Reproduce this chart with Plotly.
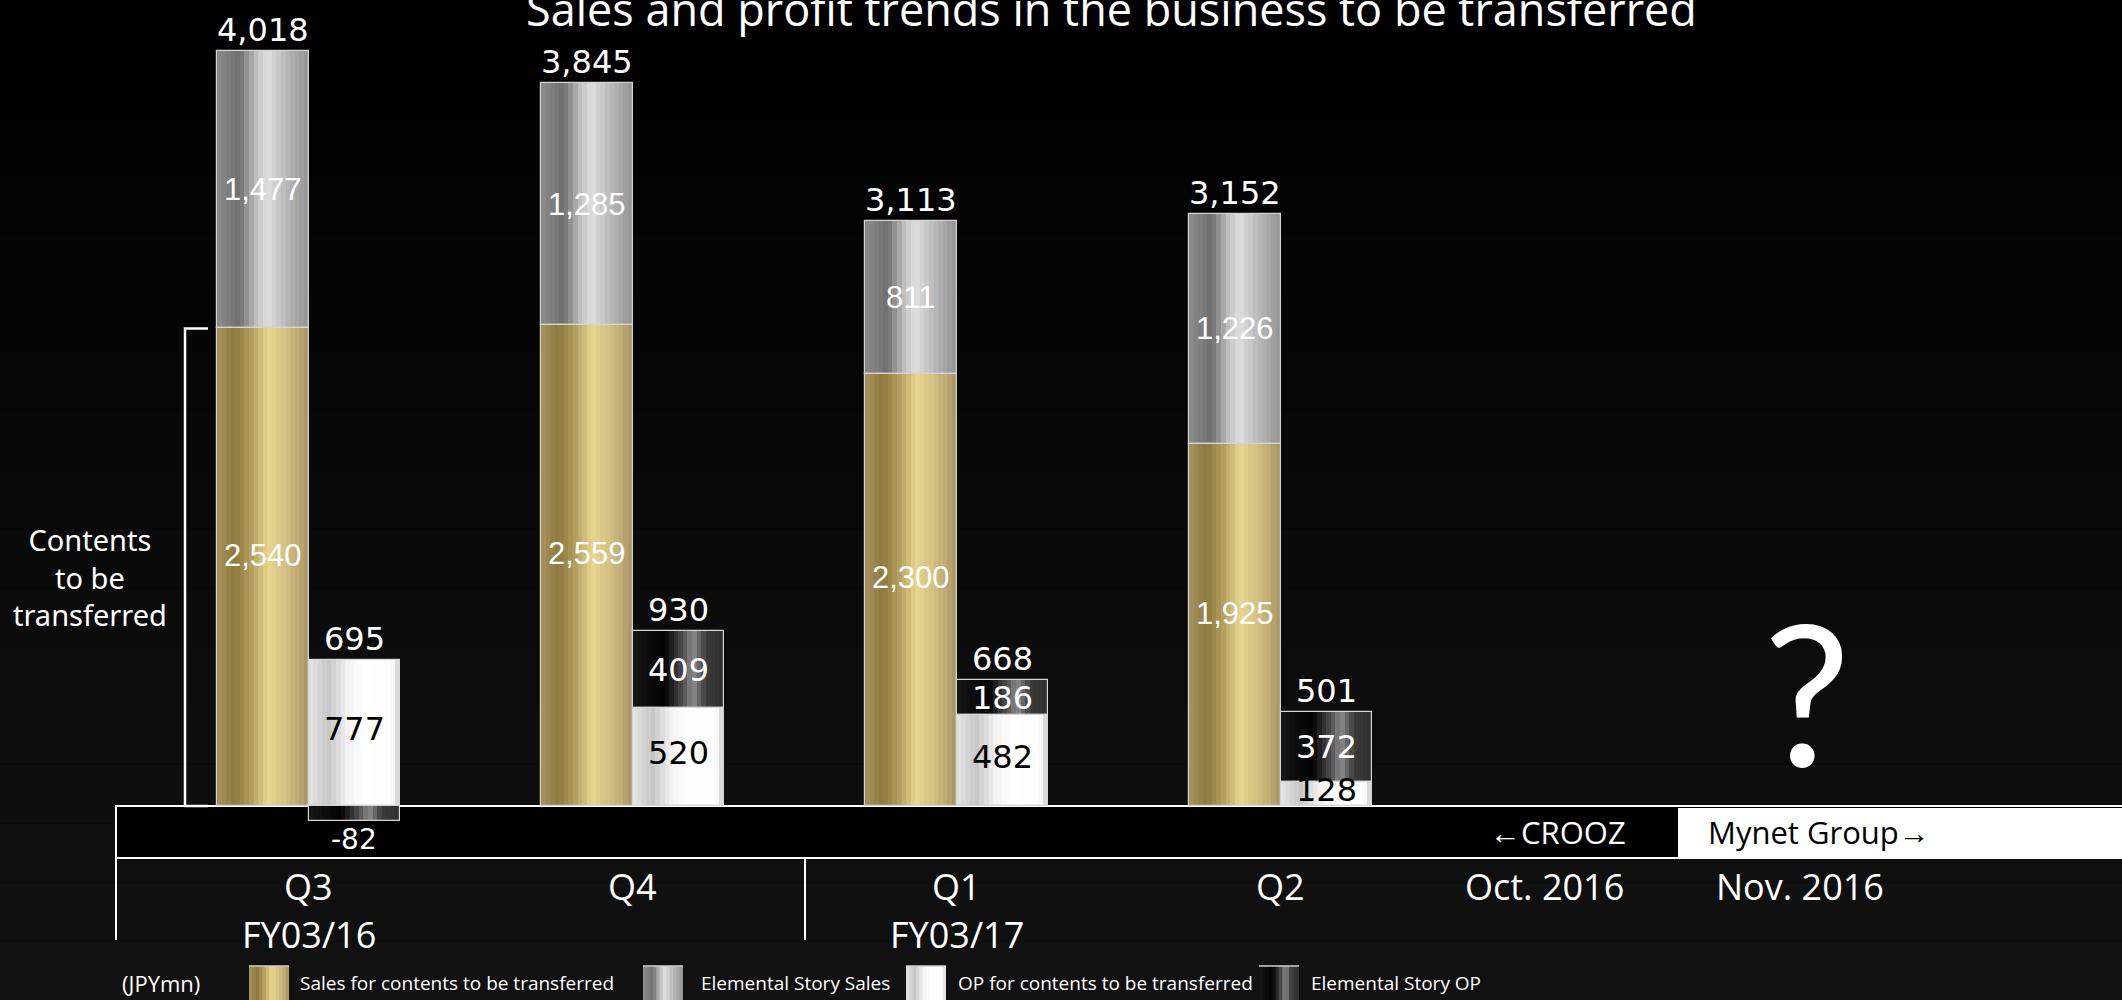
import plotly.graph_objects as go

# ---------------- data ----------------
quarters = ["Q3", "Q4", "Q1", "Q2"]
fiscal_years = ["FY03/16", "", "FY03/17", ""]
sales_contents = [2540, 2559, 2300, 1925]
sales_elemental = [1477, 1285, 811, 1226]
sales_total = [4018, 3845, 3113, 3152]
op_contents = [777, 520, 482, 128]
op_elemental = [-82, 409, 186, 372]
op_total = [695, 930, 668, 501]
later_periods = ["Oct. 2016", "Nov. 2016"]
legend_labels = ["Sales for contents to be transferred", "Elemental Story Sales",
                 "OP for contents to be transferred", "Elemental Story OP"]
title_text = "Sales and profit trends in the business to be transferred"

# ---------------- layout helpers ----------------
W, H = 2122, 1000
x_pos = list(range(len(quarters)))
BAR_W = 0.2824
later_pos = [3.816, 4.603]

def xp(px):
    return px / W

def yp(py):
    return 1 - py / H

def hx(c):
    c = c.lstrip("#")
    return [int(c[i:i + 2], 16) for i in (0, 2, 4)]

def interp(stops, t):
    for (t0, c0), (t1, c1) in zip(stops[:-1], stops[1:]):
        if t0 <= t <= t1:
            f = (t - t0) / (t1 - t0) if t1 > t0 else 0
            a, b = hx(c0), hx(c1)
            return "rgb(%d,%d,%d)" % tuple(round(a[i] + (b[i] - a[i]) * f) for i in range(3))
    return stops[-1][1]

GOLD = [(0, "#a8925f"), (0.2, "#8d793e"), (0.38, "#b6a061"), (0.56, "#e8d690"),
        (0.72, "#d6c384"), (0.88, "#bfab74"), (1, "#a69364")]
GREY = [(0, "#8c8c8c"), (0.25, "#6f6f6f"), (0.42, "#bdbdbd"), (0.55, "#e0e0e0"),
        (0.75, "#b9b9b9"), (1, "#939393")]
WHITE = [(0, "#e6e6e6"), (0.22, "#c6c6c6"), (0.42, "#f2f2f2"), (0.6, "#ffffff"),
         (0.92, "#fbfbfb"), (1, "#cdcdcd")]
BLACK = [(0, "#161616"), (0.35, "#030303"), (0.55, "#4e4e4e"), (0.66, "#8a8a8a"),
         (0.8, "#3c3c3c"), (1, "#2e2e2e")]

fig = go.Figure()

def gradient_bars(x, base, vals, offset, stops, K=20):
    w = BAR_W / K
    for i in range(K):
        off = offset + i * w
        ww = min(w * 1.6, offset + BAR_W - off)
        fig.add_trace(go.Bar(x=x, y=vals, base=base, offset=off, width=ww,
                             marker=dict(color=interp(stops, (i + 0.5) / K), line=dict(width=0)),
                             showlegend=False, hoverinfo="skip"))

def outline(x, base, vals, offset):
    fig.add_trace(go.Bar(x=x, y=vals, base=base, offset=offset, width=BAR_W,
                         marker=dict(color="rgba(0,0,0,0)", line=dict(color="#d4d4d4", width=1.2)),
                         showlegend=False, hoverinfo="skip"))

zeros = [0] * len(quarters)
es_op_base = [c if e >= 0 else 0 for c, e in zip(op_contents, op_elemental)]

gradient_bars(x_pos, zeros, sales_contents, -BAR_W, GOLD)
gradient_bars(x_pos, sales_contents, sales_elemental, -BAR_W, GREY)
gradient_bars(x_pos, zeros, op_contents, 0, WHITE)
gradient_bars(x_pos, es_op_base, op_elemental, 0, BLACK)
outline(x_pos, zeros, sales_contents, -BAR_W)
outline(x_pos, sales_contents, sales_elemental, -BAR_W)
outline(x_pos, zeros, op_contents, 0)
outline(x_pos, es_op_base, op_elemental, 0)

# ---------------- labels ----------------
ann = []
NUM_WIDE = "DejaVu Sans"
NUM_INNER = "Liberation Sans, Arial, sans-serif"
TXT = "Open Sans, sans-serif"

for i, x in enumerate(x_pos):
    xs = x - BAR_W / 2
    xo = x + BAR_W / 2
    c, e = sales_contents[i], sales_elemental[i]
    ann.append(dict(x=xs, y=c / 2, text=f"{c:,}", yshift=12,
                    font=dict(family=NUM_INNER, size=31, color="white")))
    ann.append(dict(x=xs, y=c + e / 2, text=f"{e:,}",
                    font=dict(family=NUM_INNER, size=31, color="white")))
    ann.append(dict(x=xs, y=c + e, text=f"{sales_total[i]:,}", yanchor="bottom",
                    font=dict(family=NUM_WIDE, size=32, color="white")))
    oc, oe = op_contents[i], op_elemental[i]
    ann.append(dict(x=xo, y=oc / 2, text=f"{oc:,}", yshift=4,
                    font=dict(family=NUM_WIDE, size=32, color="black")))
    if oe >= 0:
        ann.append(dict(x=xo, y=oc + oe / 2, text=f"{oe:,}",
                        font=dict(family=NUM_WIDE, size=32, color="white")))
    else:
        ann.append(dict(x=xo, y=oe, text=f"{oe:,}", yanchor="top",
                        font=dict(family=NUM_WIDE, size=28, color="white")))
    ann.append(dict(x=xo, y=oc + max(oe, 0), text=f"{op_total[i]:,}", yanchor="bottom",
                    font=dict(family=NUM_WIDE, size=32, color="white")))
    # axis-like labels
    ann.append(dict(x=x, y=yp(886), yref="paper", text=quarters[i],
                    font=dict(family=TXT, size=36, color="white")))
    if fiscal_years[i]:
        ann.append(dict(x=x, y=yp(934), yref="paper", text=fiscal_years[i],
                        font=dict(family=TXT, size=36, color="white")))

for lbl, x in zip(later_periods, later_pos):
    ann.append(dict(x=x, y=yp(886), yref="paper", text=lbl,
                    font=dict(family=TXT, size=36, color="white")))

ann += [
    dict(x=xp(1111), y=yp(41), xref="paper", yref="paper", yanchor="bottom", text=title_text,
         font=dict(family=TXT, size=45, color="white")),
    dict(x=xp(90), y=yp(577), xref="paper", yref="paper",
         text="Contents<br>to be<br>transferred", align="center",
         font=dict(family="Noto Sans, sans-serif", size=29, color="white")),
    dict(x=xp(1807), y=yp(691), xref="paper", yref="paper", text="?",
         font=dict(family="Lato, sans-serif", size=196, color="white")),
    dict(x=xp(1628), y=yp(832), xref="paper", yref="paper", xanchor="right",
         text="←CROOZ", font=dict(family=TXT, size=31, color="white")),
    dict(x=xp(1706), y=yp(832), xref="paper", yref="paper", xanchor="left",
         text="Mynet Group→", font=dict(family=TXT, size=31, color="black")),
    dict(x=xp(120), y=yp(983), xref="paper", yref="paper", xanchor="left",
         text="(JPYmn)", font=dict(family=TXT, size=22, color="white")),
]

# ---------------- shapes ----------------
shapes = []
# smooth background shading (black at top to very dark grey at the bottom)
NB = 17
for k in range(NB):
    v = round(k * 17 / (NB - 1))
    shapes.append(dict(type="rect", xref="paper", yref="paper", x0=0, x1=1,
                       y0=yp((k + 1) * H / NB), y1=yp(k * H / NB),
                       fillcolor="rgb(%d,%d,%d)" % (v, v, v), line=dict(width=0), layer="below"))
# band
shapes.append(dict(type="rect", xref="paper", yref="paper", x0=xp(116), x1=1.01, y0=yp(858), y1=yp(806),
                   fillcolor="black", line=dict(color="white", width=2), layer="below"))
shapes.append(dict(type="rect", xref="paper", yref="paper", x0=xp(1678), x1=1.01, y0=yp(857), y1=yp(808),
                   fillcolor="white", line=dict(width=0), layer="below"))
for vx in (116, 805):
    shapes.append(dict(type="line", xref="paper", yref="paper", x0=xp(vx), x1=xp(vx), y0=yp(858), y1=yp(940),
                       line=dict(color="white", width=2)))
# bracket spanning the contents-to-be-transferred sales of the first quarter
bx, bt = xp(185), xp(208)
shapes.append(dict(type="path", xref="paper", yref="y",
                   path=f"M {bt},0 L {bx},0 L {bx},{sales_contents[0]} L {bt},{sales_contents[0]}",
                   line=dict(color="white", width=2.5)))
# legend swatches
swatch_px = [249, 643, 906, 1259]
text_px = [298, 699, 956, 1309]
for stops, sx, tx, lbl in zip([GOLD, GREY, WHITE, BLACK], swatch_px, text_px, legend_labels):
    K = 12
    sw = 40
    for k in range(K):
        shapes.append(dict(type="rect", xref="paper", yref="paper",
                           x0=xp(sx + k * sw / K), x1=xp(min(sx + (k + 1.6) * sw / K, sx + sw)),
                           y0=0, y1=yp(966), fillcolor=interp(stops, (k + 0.5) / K), line=dict(width=0)))
    shapes.append(dict(type="line", xref="paper", yref="paper", x0=xp(sx), x1=xp(sx + sw), y0=yp(966), y1=yp(966),
                       line=dict(color="#cfcfcf", width=1.5)))
    ann.append(dict(x=xp(tx), y=yp(983), xref="paper", yref="paper", xanchor="left",
                    text=lbl, font=dict(family=TXT, size=19, color="white")))

for a in ann:
    a.setdefault("showarrow", False)
    a.setdefault("xref", "x")
    a.setdefault("yref", "y")
    a.setdefault("xanchor", "center")
    a.setdefault("yanchor", "middle")

fig.update_layout(
    width=W, height=H, autosize=False,
    margin=dict(l=0, r=0, t=0, b=0),
    paper_bgcolor="black", plot_bgcolor="rgba(0,0,0,0)",
    barmode="overlay", bargap=0,
    showlegend=False,
    xaxis=dict(range=[-308.5 / 324, (W - 308.5) / 324], visible=False, showgrid=False, zeroline=False),
    yaxis=dict(range=[-194 / 0.188, 806 / 0.188], visible=False, showgrid=False, zeroline=False),
    annotations=ann, shapes=shapes,
)

fig.write_html("out.html")
